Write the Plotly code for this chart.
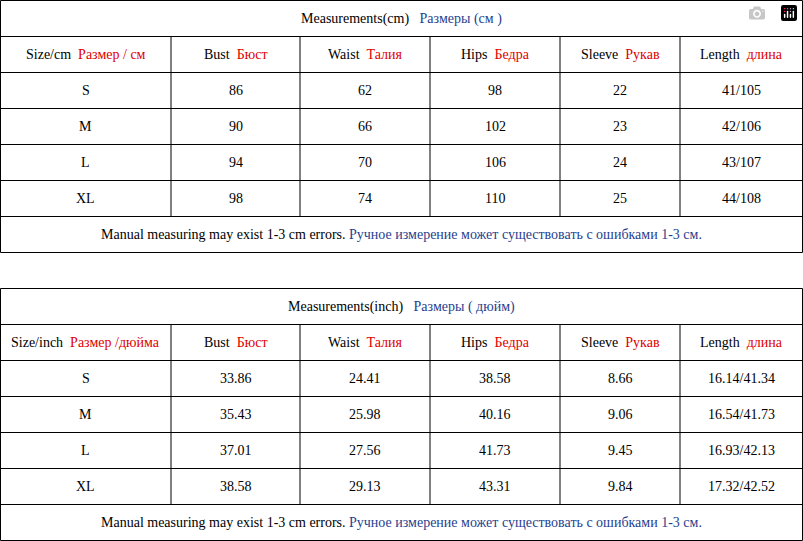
import plotly.graph_objects as go

RED = "#E00000"
BLUE = "#1F3F8F"

sizes = ["S", "M", "L", "XL"]
cm_bust = ["86", "90", "94", "98"]
cm_waist = ["62", "66", "70", "74"]
cm_hips = ["98", "102", "106", "110"]
cm_sleeve = ["22", "23", "24", "25"]
cm_length = ["41/105", "42/106", "43/107", "44/108"]

in_bust = ["33.86", "35.43", "37.01", "38.58"]
in_waist = ["24.41", "25.98", "27.56", "29.13"]
in_hips = ["38.58", "40.16", "41.73", "43.31"]
in_sleeve = ["8.66", "9.06", "9.45", "9.84"]
in_length = ["16.14/41.34", "16.54/41.73", "16.93/42.13", "17.32/42.52"]

heads_en = ["Bust", "Waist", "Hips", "Sleeve", "Length"]
heads_ru = ["Бюст", "Талия", "Бедра", "Рукав", "длина"]

footer = ("Manual measuring may exist 1-3 cm errors. "
          f"<span style='color:{BLUE}'>Ручное измерение может существовать с ошибками 1-3 см.</span>")

cols = [0.5, 171, 300, 430, 560, 680, 802.5]

fig = go.Figure()
shapes = []
ann = []


def line(x0, y0, x1, y1):
    shapes.append(dict(type="line", x0=x0, y0=y0, x1=x1, y1=y1, xref="x", yref="y",
                       line=dict(color="black", width=1)))


def text(x, y, t):
    ann.append(dict(x=x, y=y, xref="x", yref="y", text=t, showarrow=False,
                    font=dict(family="Liberation Serif", size=14, color="black")))


def table(top, rowh, title, size_head, data):
    rows = [top + i * rowh for i in range(8)]
    for y in rows:
        line(cols[0], y, cols[-1], y)
    line(cols[0], rows[0], cols[0], rows[7])
    line(cols[-1], rows[0], cols[-1], rows[7])
    for x in cols[1:-1]:
        line(x, rows[1], x, rows[6])
    mid = (cols[0] + cols[-1]) / 2
    text(mid, (rows[0] + rows[1]) / 2, title)
    text(mid, (rows[6] + rows[7]) / 2, footer)
    cx = [(cols[i] + cols[i + 1]) / 2 for i in range(6)]
    text(cx[0], (rows[1] + rows[2]) / 2, size_head)
    for j in range(5):
        text(cx[j + 1], (rows[1] + rows[2]) / 2,
             f"{heads_en[j]}  <span style='color:{RED}'>{heads_ru[j]}</span>")
    for i, s in enumerate(sizes):
        yc = (rows[i + 2] + rows[i + 3]) / 2
        text(cx[0], yc, s)
        for j, col in enumerate(data):
            text(cx[j + 1], yc, col[i])


table(0.5, 36, f"Measurements(cm)   <span style='color:{BLUE}'>Размеры (см )</span>",
      f"Size/cm  <span style='color:{RED}'>Размер / см</span>",
      [cm_bust, cm_waist, cm_hips, cm_sleeve, cm_length])
table(288.5, 36, f"Measurements(inch)   <span style='color:{BLUE}'>Размеры ( дюйм)</span>",
      f"Size/inch  <span style='color:{RED}'>Размер /дюйма</span>",
      [in_bust, in_waist, in_hips, in_sleeve, in_length])

fig.update_layout(width=803, height=541, margin=dict(l=0, r=0, t=0, b=0),
                  plot_bgcolor="white", paper_bgcolor="white",
                  shapes=shapes, annotations=ann,
                  xaxis=dict(range=[0, 803], visible=False, fixedrange=True),
                  yaxis=dict(range=[541, 0], visible=False, fixedrange=True),
                  showlegend=False)
# drop the browser's default body margin so the tables fill the window
fig.write_html("out.html", post_script="document.body.style.margin='0';document.body.style.overflow='hidden';")
